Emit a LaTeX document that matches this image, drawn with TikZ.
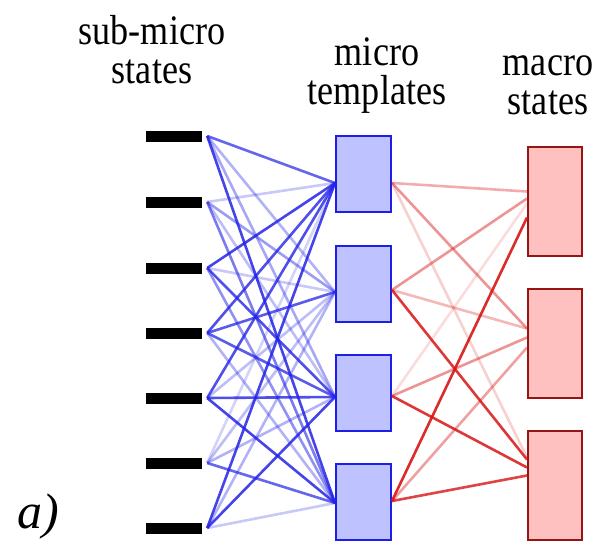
\documentclass[tikz,border=0pt]{standalone}
\usepackage{fontspec}
\setmainfont{Liberation Serif}
\newfontfamily\lblfont[FakeStretch=0.86]{Liberation Serif}
\begin{document}
\begin{tikzpicture}[x=1pt,y=-1pt,
  barbox/.style={draw=none,fill=black,minimum width=56pt,minimum height=11pt,inner sep=0pt},
  bluebox/.style={draw={rgb,255:red,30;green,30;blue,235},line width=2pt,fill={rgb,255:red,190;green,195;blue,255},minimum width=55pt,minimum height=76pt,inner sep=0pt},
  redbox/.style={draw={rgb,255:red,150;green,20;blue,20},line width=2pt,fill={rgb,255:red,255;green,192;blue,192},minimum width=54pt,minimum height=109pt,inner sep=0pt},
  bl/.style={draw={rgb,255:red,35;green,35;blue,230},line width=2.6pt},
  rd/.style={draw={rgb,255:red,215;green,20;blue,20},line width=2.6pt},
  lbl/.style={font=\lblfont\fontsize{42}{39}\selectfont,align=center,inner sep=0pt,anchor=base}]
\useasboundingbox (0,0) rectangle (611,544);
% labels
\node[lbl] (l1) at (152,83) {sub-micro\\states};
\node[lbl] (l2) at (377,104) {micro\\templates};
\node[lbl] (l3) at (548,114) {macro\\states};
\node[font=\fontsize{50}{50}\selectfont\itshape,inner sep=0pt,anchor=base] (lab) at (38,528) {a)};
% bars
\foreach \i/\y in {1/136,2/202,3/268,4/333,5/398,6/463,7/528}
  \node[barbox] (s\i) at (174,\y) {};
% blue boxes
\foreach \j/\y in {1/174,2/284,3/393,4/502}
  \node[bluebox] (b\j) at (363.5,\y) {};
% red boxes
\foreach \k/\y in {1/201.5,2/343.5,3/485.5}
  \node[redbox] (r\k) at (555,\y) {};
% connection points
\coordinate (bi1) at ([yshift=-9pt]b1.west);
\coordinate (bi2) at ([yshift=-8pt]b2.west);
\coordinate (bi3) at ([yshift=-4pt]b3.west);
\coordinate (bi4) at ([yshift=-1pt]b4.west);
\coordinate (bo1) at ([yshift=-9pt]b1.east);
\coordinate (bo2) at ([yshift=-6pt]b2.east);
\coordinate (bo3) at ([yshift=-3pt]b3.east);
\coordinate (bo4) at ([yshift=1pt]b4.east);
\foreach \i in {1,...,7} \coordinate (so\i) at ([xshift=5pt]s\i.east);
% blue connectors
\foreach \i/\j/\o in {
 1/1/.7,1/2/.35,1/3/.4,1/4/.85,
 2/1/.25,2/2/.45,2/3/.3,2/4/.6,
 3/1/.85,3/2/.25,3/3/.8,3/4/.5,
 4/1/.8,4/2/.75,4/3/.75,4/4/.35,
 5/1/.8,5/2/.3,5/3/.8,5/4/.85,
 6/1/.2,6/2/.3,6/3/.35,6/4/.7,
 7/1/.85,7/2/.35,7/3/.85,7/4/.25}
  \draw[bl,draw opacity=\o] (so\i) -- (bi\j);
% red connectors
\foreach \j/\k/\d/\o in {
 1/1/10/.35,1/2/15/.45,1/3/28/.2,
 2/1/3/.45,2/2/15/.3,2/3/26/.85,
 3/1/-2/.15,3/2/6/.45,3/3/18/.85,
 4/1/-16/.9,4/2/-4/.4,4/3/10/.8}
  \draw[rd,draw opacity=\o] (bo\j) -- ([yshift=\d pt]r\k.west);
\end{tikzpicture}
\end{document}
